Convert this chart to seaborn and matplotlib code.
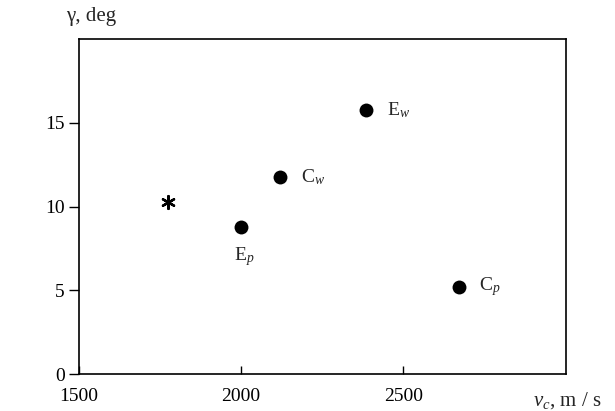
import matplotlib
matplotlib.use("Agg")
import matplotlib.pyplot as plt
import seaborn as sns
import pandas as pd

# data
labels = ["E$_p$", "C$_w$", "E$_w$", "C$_p$"]
v_c = [2000, 2120, 2385, 2670]
gamma = [8.75, 11.75, 15.75, 5.2]
star_v = [1775]
star_gamma = [10.3]

label_pos = ["below", "right", "right", "right"]

sns.set_style("white")
plt.rcParams["font.family"] = ["Liberation Serif", "DejaVu Serif"]
plt.rcParams["mathtext.fontset"] = "custom"
plt.rcParams["mathtext.rm"] = "Liberation Serif"
plt.rcParams["mathtext.it"] = "Liberation Serif:italic"

df = pd.DataFrame({"v": v_c, "g": gamma, "name": labels})

fig = plt.figure(figsize=(6.15, 4.11), dpi=100)
ax = fig.add_axes([0.128, 0.090, 0.792, 0.815])

sns.scatterplot(data=df, x="v", y="g", ax=ax, color="black", s=100,
                edgecolor="black", linewidth=0, legend=False)
sns.scatterplot(x=star_v, y=star_gamma, ax=ax, color="black", marker=(6, 2, 0),
                s=85, linewidth=1.7, legend=False)

for name, x, y, pos in zip(labels, v_c, gamma, label_pos):
    if pos == "below":
        ax.annotate(name, (x, y), xytext=(2, -13), textcoords="offset points",
                    ha="center", va="top", fontsize=14)
    else:
        ax.annotate(name, (x, y), xytext=(15, 0), textcoords="offset points",
                    ha="left", va="center", fontsize=14)

ax.set_xlim(1500, 3000)
ax.set_ylim(0, 20)
ax.set_xticks([1500, 2000, 2500])
ax.set_yticks([0, 5, 10, 15])
ax.set_xlabel("")
ax.set_ylabel("")
ax.tick_params(axis="x", direction="in", length=6, width=1, labelsize=14, pad=10, colors="black")
ax.tick_params(axis="y", direction="out", length=7, width=1, labelsize=14, pad=3, colors="black")
ax.tick_params(axis="x", bottom=True)
ax.tick_params(axis="y", left=True)
for sp in ax.spines.values():
    sp.set_color("black")
    sp.set_linewidth(1.2)

fig.text(91 / 615, 1 - 16 / 411, "γ, deg", ha="center", va="center", fontsize=15)
fig.text(567 / 615, 1 - 401 / 411, "$v_c$, m / s", ha="center", va="center", fontsize=15)

fig.savefig("out.png", dpi=100)
